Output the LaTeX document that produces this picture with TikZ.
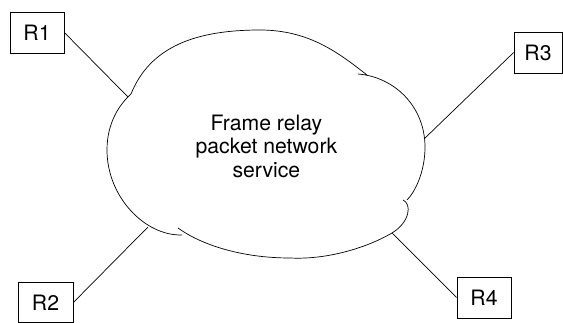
\documentclass[tikz,border=0pt]{standalone}
\usepackage{fontspec}
\setmainfont{TeX Gyre Heros}
\usepackage{tikz}
\usetikzlibrary{arrows.meta}

\begin{document}
\begin{tikzpicture}[x=1pt,y=1pt,line width=0.7pt,
  router/.style={draw,minimum width=54pt,minimum height=41pt,inner sep=0pt,font=\fontsize{21.2}{23.8}\selectfont}]
\useasboundingbox(0,0)rectangle(563,322);
\draw(131,228)..controls(150,275)and(195,292)..(260,292)
..controls(310,292)and(340,268)..(367,247)
(358,248)..controls(395,245)and(425,215)..(425,175)
..controls(425,150)and(415,130)..(407,122)
(403,122)..controls(412,118)and(410,100)..(392,89)
..controls(370,76)and(330,62)..(290,64)
..controls(240,64)and(200,78)..(178,94)
(182,87)..controls(145,86)and(107,125)..(107,172)
..controls(107,200)and(120,218)..(131,228);
\node[align=center,inner sep=0pt,font=\fontsize{21.2}{23.8}\selectfont](net)at(266.4,175.7){Frame relay\\packet network\\service};
\coordinate(c1)at(128,225);
\coordinate(c2)at(148,95);
\coordinate(c3)at(424,183);
\coordinate(c4)at(392,89);
\node[router](R1)at(37,289.5){R1};
\node[router,minimum width=55pt,minimum height=40pt](R2)at(45.5,19.5){R2};
\node[router,minimum width=48pt](R3)at(538,269.5){R3};
\node[router](R4)at(484,24.5){R4};
\draw(R1.east)--(c1);
\draw(R2.east)--(c2);
\draw(R3.west)--(c3);
\draw(R4.west)--(c4);
\end{tikzpicture}
\end{document}
